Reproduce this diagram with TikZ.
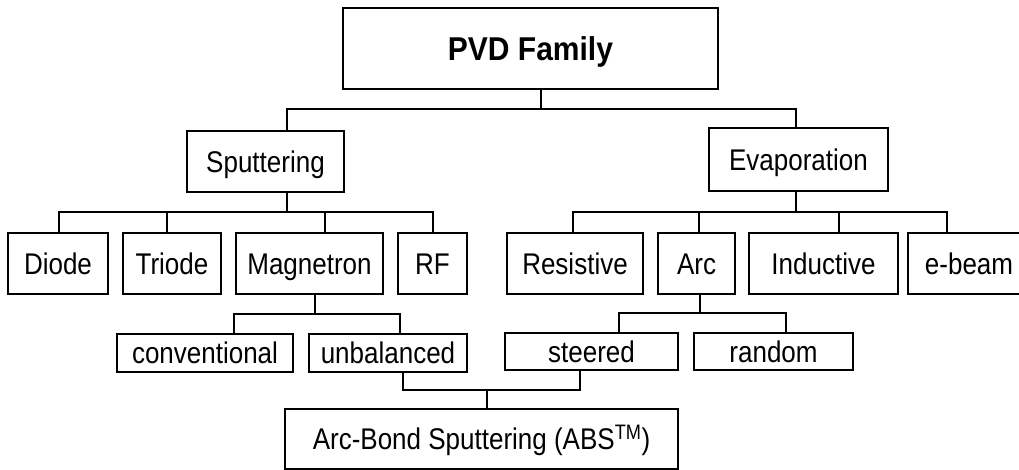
\documentclass[tikz,border=0pt]{standalone}
\usepackage{fontspec}
\usepackage{graphicx}
\setmainfont{Liberation Sans}
\newcommand{\T}[1]{\scalebox{1}[1.15]{#1}}
\newcommand{\TB}[1]{\scalebox{1}[1.1]{\bfseries #1}}
\begin{document}
\begin{tikzpicture}[x=1pt,y=-1pt,
  box/.style={draw, line width=1.3pt, inner sep=0pt, align=center,
    font=\fontsize{26}{31}\selectfont, text height=21.4pt, text depth=0pt},
  title/.style={box, font=\fontsize{30}{36}\selectfont, text height=23.6pt},
  link/.style={line width=1.2pt}]
\useasboundingbox (0,0) rectangle (1019,470);
\clip (0,0) rectangle (1019,470);
% nodes
\node[title, minimum width=375pt, minimum height=81pt] (pvd) at (530.5,48.5) {\TB{PVD Family}};
\node[box, minimum width=157pt, minimum height=61pt] (sput) at (265.5,161.5) {\T{Sputtering}};
\node[box, minimum width=179pt, minimum height=63pt] (evap) at (798.5,159.5) {\T{Evaporation}};
\node[box, minimum width=100pt, minimum height=61pt] (diode) at (58,263.5) {\T{Diode}};
\node[box, minimum width=98pt, minimum height=61pt] (triode) at (172,263.5) {\T{Triode}};
\node[box, minimum width=147pt, minimum height=61pt] (magn) at (309.5,263.5) {\T{Magnetron}};
\node[box, minimum width=69pt, minimum height=61pt] (rf) at (432.5,263.5) {\T{RF}};
\node[box, minimum width=136pt, minimum height=61pt] (resist) at (575,263.5) {\T{Resistive}};
\node[box, minimum width=77pt, minimum height=61pt] (arc) at (696.5,263.5) {\T{Arc}};
\node[box, minimum width=149pt, minimum height=61pt] (induct) at (823.5,263.5) {\T{Inductive}};
\node[box, minimum width=122pt, minimum height=61pt] (ebeam) at (969,263.5) {\T{e-beam}};
\node[box, minimum width=176pt, minimum height=38pt] (conv) at (205,353) {\T{conventional}};
\node[box, minimum width=158pt, minimum height=38pt] (unbal) at (388,353) {\T{unbalanced}};
\node[box, minimum width=173pt, minimum height=37pt] (steer) at (591.5,351.5) {\T{steered}};
\node[box, minimum width=159pt, minimum height=37pt] (random) at (773.5,351.5) {\T{random}};
\node[box, minimum width=393pt, minimum height=60pt] (abs) at (481.5,439) {\T{Arc-Bond Sputtering (ABS\textsuperscript{TM})}};
% junctions
\coordinate (j0) at (541,109);
\coordinate (j1) at (287,212);
\coordinate (j2) at (796,212);
\coordinate (j3) at (315,314);
\coordinate (j4) at (700,313);
\coordinate (j5) at (487,390);
% connectors
\draw[link] ([xshift=10.5]pvd.south) -- (j0) -| ([xshift=21.5]sput.north);
\draw[link] (j0) -| ([xshift=-2.5]evap.north);
\draw[link] ([xshift=21.5]sput.south) -- (j1) -| ([xshift=1]diode.north);
\draw[link] (j1) -| ([xshift=-5]triode.north);
\draw[link] (j1) -| ([xshift=15.5]magn.north);
\draw[link] (j1) -| ([xshift=0.5]rf.north);
\draw[link] ([xshift=-2.5]evap.south) -- (j2) -| ([xshift=-2]resist.north);
\draw[link] (j2) -| ([xshift=2.5]arc.north);
\draw[link] (j2) -| ([xshift=15.5]induct.north);
\draw[link] (j2) -| ([xshift=-22]ebeam.north);
\draw[link] ([xshift=5.5]magn.south) -- (j3) -| ([xshift=29]conv.north);
\draw[link] (j3) -| ([xshift=12]unbal.north);
\draw[link] ([xshift=3.5]arc.south) -- (j4) -| ([xshift=27.5]steer.north);
\draw[link] (j4) -| ([xshift=12.5]random.north);
\draw[link] ([xshift=15]unbal.south) |- (j5) -- ([xshift=5.5]abs.north);
\draw[link] ([xshift=-11.5]steer.south) |- (j5);
\end{tikzpicture}
\end{document}
